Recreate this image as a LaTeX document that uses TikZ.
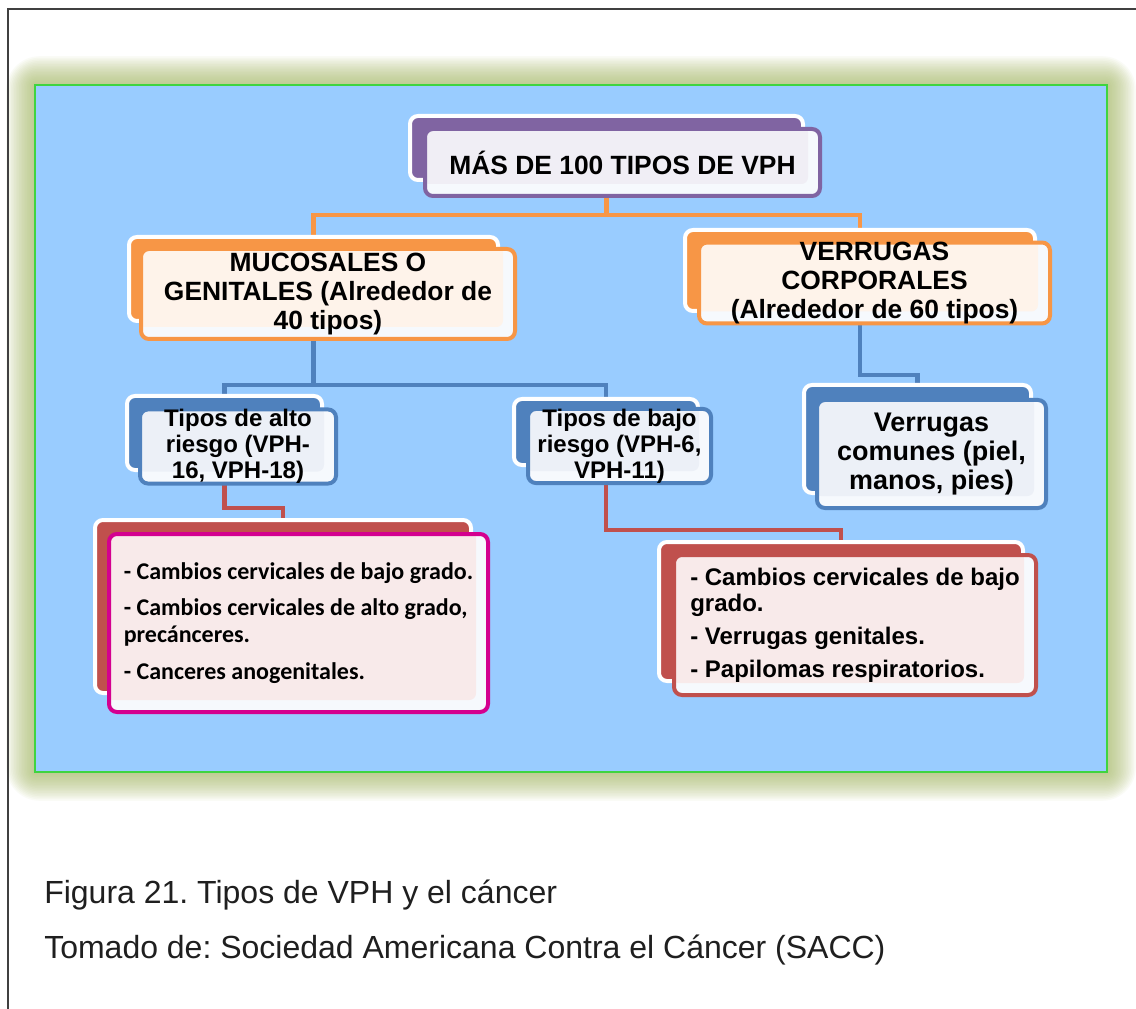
\documentclass[tikz,border=0pt]{standalone}
\usepackage{fontspec}
\setmainfont{Liberation Sans}
\newfontfamily\calib{Carlito}
\usetikzlibrary{calc}
\frenchspacing
\definecolor{panelc}{HTML}{99CCFF}
\definecolor{panelg}{HTML}{3FD43F}
\definecolor{glowc}{HTML}{A4B860}
\definecolor{purp}{HTML}{8064A2}
\definecolor{purpl}{HTML}{F0EEF5}
\definecolor{orng}{HTML}{F79646}
\definecolor{orngl}{HTML}{FEF3EA}
\definecolor{blu}{HTML}{4F81BD}
\definecolor{blul}{HTML}{ECF0F7}
\definecolor{redc}{HTML}{C0504D}
\definecolor{redl}{HTML}{F8EAEA}
\definecolor{magc}{HTML}{D4008F}
\definecolor{glossw}{HTML}{F6F9FD}
\definecolor{framec}{HTML}{404040}
\pgfdeclarelayer{bgl}
\pgfdeclarelayer{cnl}
\pgfsetlayers{bgl,cnl,main}
\begin{document}
\begin{tikzpicture}[x=0.75pt,y=-0.75pt,
  backbox/.style={draw=white, line width=3pt, fill=#1, rounded corners=6pt, inner sep=0pt},
  frontbox/.style 2 args={draw=#1, line width=3pt, fill=glossw, rounded corners=6pt, inner sep=0pt,
     path picture={\fill[#2, rounded corners=5pt] ([xshift=-2pt,yshift=2pt]path picture bounding box.north west) rectangle ([xshift=-9pt,yshift=9pt]path picture bounding box.south east);}},
  sz/.style 2 args={minimum width=#1*0.75pt, minimum height=#2*0.75pt},
  bigtxt/.style={font=\bfseries\fontsize{19.8}{21.4}\selectfont, align=center},
  midtxt/.style={font=\bfseries\fontsize{18}{19.4}\selectfont, align=center},
  oconn/.style={draw=orng, line width=3.6pt},
  bconn/.style={draw=blu, line width=3.2pt},
  rconn/.style={draw=redc, line width=3.2pt},
  captxt/.style={anchor=base west, inner sep=0pt, font=\fontsize{24}{28}\selectfont, text=black!88}
]
\useasboundingbox (0,0) rectangle (1136,1009);

% background: page, glow and panel
\begin{pgfonlayer}{bgl}
  \fill[white] (0,0) rectangle (1136,1009);
  \foreach \i in {18,17,...,1} {
    \fill[glowc, opacity=0.055, rounded corners={\i*1.4pt}]
      ({35-\i*1.6},{85-\i*1.6}) rectangle ({1107+\i*1.6},{772+\i*1.6});
  }
  \draw[panelg, line width=1.5pt, fill=panelc] (35,85) rectangle (1107,772);
  \draw[framec, line width=1.5pt] (7.5,1009) -- (7.5,9.5) -- (1136,9.5);
\end{pgfonlayer}

% top
\node[backbox=purp, sz={393}{64}] (topb) at (606.5,148) {};
\node[frontbox={purp}{purpl}, sz={395}{67}, bigtxt] (topf) at (622.5,162.5) {MÁS DE 100 TIPOS DE VPH};

% level 2
\node[backbox=orng, sz={369}{84}] (mucb) at (313.5,279) {};
\node[frontbox={orng}{orngl}, sz={374}{90}, bigtxt] (mucf) at (328,294) {MUCOSALES O\\GENITALES (Alrededor de\\40 tipos)};

\node[backbox=orng, sz={350}{81}] (vcb) at (860,270.5) {};
\node[frontbox={orng}{orngl}, sz={351}{80}, bigtxt] (vcf) at (874.5,283) {VERRUGAS\\CORPORALES\\(Alrededor de 60 tipos)};

% level 3
\node[backbox=blu, sz={195}{74}] (altob) at (224.5,433) {};
\node[frontbox={blu}{blul}, sz={196}{73}, midtxt] (altof) at (238,446.5) {Tipos de alto\\riesgo (VPH-\\16, VPH-18)};

\node[backbox=blu, sz={184}{66}] (bajob) at (606,432) {};
\node[frontbox={blu}{blul}, sz={183}{68}, midtxt] (bajof) at (619.5,446) {Tipos de bajo\\riesgo (VPH-6,\\VPH-11)};

\node[backbox=blu, sz={227}{108}] (vcomb) at (917.5,439) {};
\node[frontbox={blu}{blul}, sz={229}{108}, font=\bfseries\fontsize{20.2}{21.6}\selectfont, align=center] (vcomf) at (931.5,454) {Verrugas\\comunes (piel,\\manos, pies)};

% level 4
\node[backbox=redc, sz={376}{173}] (pinkb) at (283,606.5) {};
\node[frontbox={magc}{redl}, sz={379}{178}, font=\calib\bfseries\fontsize{18}{20.25}\selectfont, align=left] (pinkf) at (298.5,623)
  {- Cambios cervicales de bajo grado.\\[7pt]- Cambios cervicales de alto grado,\\precánceres.\\[7pt]- Canceres anogenitales.};

\node[backbox=redc, sz={364}{139}] (redb) at (841,611.5) {};
\node[frontbox={redc}{redl}, sz={362}{140}, font=\bfseries\fontsize{18}{20}\selectfont, align=left] (redf) at (855,625)
  {- Cambios cervicales de bajo\\grado.\\[4.5pt]- Verrugas genitales.\\[4.5pt]- Papilomas respiratorios.};

% connectors
\begin{pgfonlayer}{cnl}
  \draw[oconn] (topb.south) -- ++(0,33) coordinate (oj) -| (mucb.north);
  \draw[oconn] (oj) -| (vcb.north);
  \draw[bconn] (mucb.south) -- ++(0,62) coordinate (bj) -| (altob.north);
  \draw[bconn] (bj) -| (bajob.north);
  \draw[bconn] (vcb.south) -- ++(0,62) -| (vcomb.north);
  \draw[rconn] (altob.south) -- ++(0,36) -| (pinkb.north);
  \draw[rconn] (bajob.south) -- ++(0,63) -| (redb.north);
\end{pgfonlayer}

% caption
\node[captxt] (cap1) at (44,903) {Figura 21. Tipos de VPH y el cáncer};
\node[captxt] (cap2) at (44,958) {Tomado de: Sociedad Americana Contra el Cáncer (SACC)};
\end{tikzpicture}
\end{document}
